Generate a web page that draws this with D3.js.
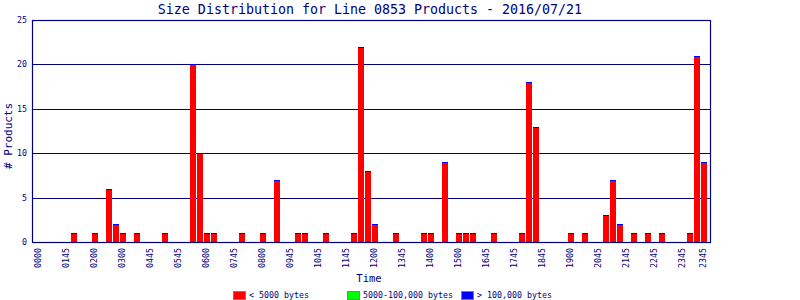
<!DOCTYPE html>
<html>
<head>
<meta charset="utf-8">
<script src="https://cdn.jsdelivr.net/npm/d3@7"></script>
<style>
  body { margin: 0; background: #fff; }
  svg { display: block; }
  text { font-family: "DejaVu Sans Mono", monospace; fill: #000080; }
</style>
</head>
<body>
<div id="chart"></div>
<script>
// counts per 15-minute bin (96 bins over the day)
const smallCounts = [
  0, 0, 0, 0, 0, 1, 0, 0, 1, 0, 6, 2,
  1, 0, 1, 0, 0, 0, 1, 0, 0, 0, 20, 10,
  1, 1, 0, 0, 0, 1, 0, 0, 1, 0, 7, 0,
  0, 1, 1, 0, 0, 1, 0, 0, 0, 1, 22, 8,
  2, 0, 0, 1, 0, 0, 0, 1, 1, 0, 9, 0,
  1, 1, 1, 0, 0, 1, 0, 0, 0, 1, 18, 13,
  0, 0, 0, 0, 1, 0, 1, 0, 0, 3, 7, 2,
  0, 1, 0, 1, 0, 1, 0, 0, 0, 1, 21, 9
];
const mediumCounts = new Array(96).fill(0);
const largeCounts = new Array(96).fill(0);

const tickBins = [0, 4, 8, 12, 16, 20, 24, 28, 32, 36, 40, 44, 48, 52, 56, 60,
  64, 68, 72, 76, 80, 84, 88, 92, 95];
const tickLabels = ["0000", "0145", "0200", "0300", "0445", "0545", "0600", "0745",
  "0800", "0945", "1045", "1145", "1200", "1345", "1400", "1500", "1645", "1745",
  "1845", "1900", "2045", "2145", "2245", "2345", "2345"];
const yTicks = [0, 5, 10, 15, 20, 25];

const seriesNames = ["< 5000 bytes", "5000-100,000 bytes", "> 100,000 bytes"];
const seriesColors = ["#ff0000", "#00ff00", "#0000ff"];

const width = 800;
const height = 300;
const plot = { left: 32, right: 710, top: 20, bottom: 242 };
const navy = "#000080";

const svg = d3
  .select("#chart")
  .append("svg")
  .attr("width", width)
  .attr("height", height);

const bins = d3.range(smallCounts.length);
const x = d3.scaleBand().domain(bins).range([plot.left + 3, plot.right - 3]).padding(0);
const y = d3.scaleLinear().domain([0, 25]).range([plot.bottom, plot.top]);

// title
svg
  .append("text")
  .attr("x", 370)
  .attr("y", 13.5)
  .attr("text-anchor", "middle")
  .style("font-size", "13.3px")
  .text("Size Distribution for Line 0853 Products - 2016/07/21");

// grid lines
svg
  .append("g")
  .selectAll("line")
  .data(yTicks.filter((t) => t > 0 && t < 25))
  .enter()
  .append("line")
  .attr("x1", plot.left)
  .attr("x2", plot.right)
  .attr("y1", (d) => Math.round(y(d)) + 0.5)
  .attr("y2", (d) => Math.round(y(d)) + 0.5)
  .attr("stroke", navy)
  .attr("stroke-width", 1);

// stacked bars
const rows = bins.map((i) => ({ i: i, small: smallCounts[i], medium: mediumCounts[i], large: largeCounts[i] }));
const stack = d3.stack().keys(["small", "medium", "large"]);
const layers = stack(rows);

svg
  .append("g")
  .selectAll("g")
  .data(layers)
  .enter()
  .append("g")
  .attr("fill", (d, k) => seriesColors[k])
  .selectAll("rect")
  .data((d) => d.filter((p) => p.data.small + p.data.medium + p.data.large > 0))
  .enter()
  .append("rect")
  .attr("x", (d) => x(d.data.i) + 1)
  .attr("width", x.bandwidth() - 1)
  .attr("y", (d) => Math.round(y(d[1])))
  // zero-height segments still leave a 1px sliver on top, as in the original
  .attr("height", (d) => Math.max(1, Math.round(y(d[0])) - Math.round(y(d[1]))));

// frame
svg
  .append("rect")
  .attr("x", plot.left + 0.5)
  .attr("y", plot.top + 0.5)
  .attr("width", plot.right - plot.left)
  .attr("height", plot.bottom - plot.top)
  .attr("fill", "none")
  .attr("stroke", navy)
  .attr("stroke-width", 1.2);

// y tick labels
svg
  .append("g")
  .selectAll("text")
  .data(yTicks)
  .enter()
  .append("text")
  .attr("x", 27)
  .attr("y", (d) => y(d))
  .attr("dy", "0.35em")
  .attr("text-anchor", "end")
  .style("font-size", "8.3px")
  .text((d) => d);

// x tick labels (rotated)
svg
  .append("g")
  .selectAll("text")
  .data(tickBins)
  .enter()
  .append("text")
  .attr("transform", (d) => "translate(" + (x(d) + x.bandwidth() / 2) + ",248) rotate(-90)")
  .attr("dy", "0.35em")
  .attr("text-anchor", "end")
  .style("font-size", "8.3px")
  .text((d, k) => tickLabels[k]);

// axis titles
svg
  .append("text")
  .attr("x", 369)
  .attr("y", 282)
  .attr("text-anchor", "middle")
  .style("font-size", "10.5px")
  .text("Time");

svg
  .append("text")
  .attr("transform", "translate(8,136) rotate(-90)")
  .attr("dy", "0.35em")
  .attr("text-anchor", "middle")
  .style("font-size", "11px")
  .text("# Products");

// legend
const legendX = [233, 347, 461];
const legend = svg
  .append("g")
  .selectAll("g")
  .data(seriesNames)
  .enter()
  .append("g")
  .attr("transform", (d, k) => "translate(" + legendX[k] + ",291)");

legend
  .append("rect")
  .attr("x", 0.5)
  .attr("y", 0.5)
  .attr("width", 12)
  .attr("height", 8)
  .attr("fill", (d, k) => seriesColors[k])
  .attr("stroke", "#808080");

legend
  .append("text")
  .attr("x", 16)
  .attr("y", 4.5)
  .attr("dy", "0.35em")
  .style("font-size", "8.3px")
  .text((d) => d);
</script>
</body>
</html>
